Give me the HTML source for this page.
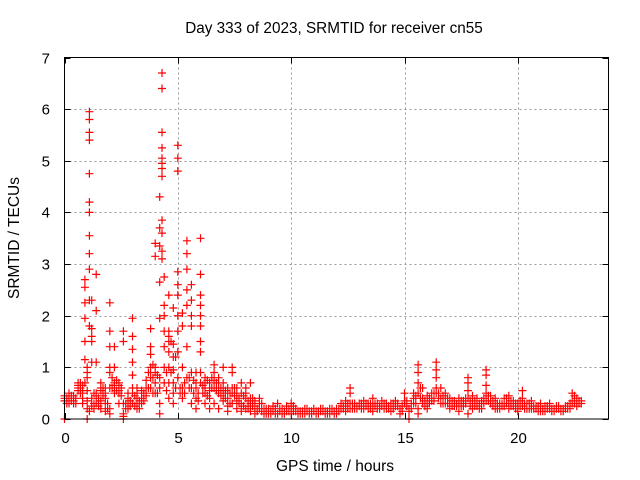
<!DOCTYPE html>
<html><head><meta charset="utf-8"><style>
body{margin:0;background:#fff;}
svg{display:block;font-family:"Liberation Sans",sans-serif;}
</style></head><body>
<svg id="chart" width="640" height="480" viewBox="0 0 640 480">
<text x="334" y="33" font-size="15.3" text-anchor="middle">Day 333 of 2023, SRMTID for receiver cn55</text>
<text x="335" y="471" font-size="15.5" text-anchor="middle">GPS time / hours</text>
<text transform="translate(19,238) rotate(-90)" font-size="15.5" text-anchor="middle">SRMTID / TECUs</text>
<g id="grid"></g>
<g id="ticks"></g>
<g id="marks"></g>
<rect x="64.5" y="57.5" width="544" height="361.5" fill="none" stroke="#000" stroke-width="1"/>
</svg>
<script>
const xTicks=[0,5,10,15,20];
const yTicks=[0,1,2,3,4,5,6,7];
const times=[0,0.2,0.4,0.6,0.8,0.9,1.0,1.1,1.2,1.4,1.6,1.8,2.0,2.2,2.4,2.6,2.8,3.0,3.2,3.4,3.6,3.8,4.0,4.2,4.3,4.4,4.6,4.8,5.0,5.2,5.4,5.6,5.8,6.0,6.2,6.4,6.6,6.8,7.0,7.2,7.4,7.6,7.8,8.0,8.2,8.4,8.6,8.8,
9.0,9.2,9.4,9.6,9.8,10.0,10.2,10.4,10.6,10.8,11.0,11.2,11.4,11.6,11.8,12.0,12.2,12.4,12.6,12.8,13.0,13.2,13.4,13.6,13.8,14.0,14.2,14.4,14.6,14.8,15.0,15.2,15.4,15.6,15.8,16.0,16.2,16.4,16.6,16.8,17.0,17.2,17.4,17.6,17.8,18.0,18.2,18.4,18.6,18.8,19.0,19.2,19.4,19.6,19.8,20.0,20.2,20.4,20.6,20.8,21.0,21.2,21.4,21.6,21.8,22.0,22.2,22.4,22.6,22.8,
0.1,0.3,0.5,0.7,1.3,1.5,1.7,1.9,2.1,2.3,2.5,2.7,2.9,3.1,3.3,3.5,3.7,3.9,4.1,4.5,4.7,4.9,5.1,5.3,5.5,5.7,5.9,6.1,6.3,6.5,6.7,6.9,7.1,7.3,7.5,7.7,7.9,8.1,8.3,8.5,8.7,8.9,
9.1,9.3,9.5,9.7,9.9,10.1,10.3,10.5,10.7,10.9,11.1,11.3,11.5,11.7,11.9,12.1,12.3,12.5,12.7,12.9,13.1,13.3,13.5,13.7,13.9,14.1,14.3,14.5,14.7,14.9,15.1,15.3,15.5,15.7,15.9,16.1,16.3,16.5,16.7,16.9,17.1,17.3,17.5,17.7,17.9,18.1,18.3,18.5,18.7,18.9,19.1,19.3,19.5,19.7,19.9,20.1,20.3,20.5,20.7,20.9,21.1,21.3,21.5,21.7,21.9,22.1,22.3,22.5,22.7];
const values=[[.35,.4,.45,0],[.3,.4,.5],[.35,.45,.3],[.6,.7,.55,.65],[.65,.5,.4,.3],[2.7,2.55,2.25,1.95,1.5,1.15,.7],[.35,.2,.55,1.0,.8,.9,0],[5.95,5.8,5.55,5.4,4.75,4.2,4.0,3.55,3.2,2.9,2.3,1.8,.15],[1.75,1.6,1.5,2.3,.4,.25,1.1],[2.1,2.8,1.1,.5,.3,.45],[.55,.35,.2,.7,.6],[.6,.3,.15,.5,.4],[1.0,.9,2.25,1.7,1.4,.2,.1,.6],[.7,.6,.5,1.4,1.0,.65],[.55,.65,.7,.3,.5],[.1,.05,0,1.7,1.5,.3],[.4,.3,.2,.5],[.5,.3,.85,1.95,1.6,1.35,1.1,.6],[.3,.5,.6,.2,.4],[.4,.55,.3,.5],[.5,.6,.75,.45],[.8,1.0,.9,1.25,1.75,1.4,.6],[1.0,.7,3.4,3.15,.5,.9],[.6,.3,.1,4.3,3.7,3.35,2.65,1.95,.8],[6.7,6.4,5.55,5.25,5.05,4.95,4.85,4.7,3.85,3.6,3.25,3.1],[2.75,2.2,2.0,1.7,1.4,1.0,.7],[1.7,1.6,1.5,1.3,.7,.4,2.4,1.0],[1.45,1.2,.95,.5,.3,2.15,.7],[2.85,2.6,2.4,2.0,1.7,1.3,5.3,5.05,4.8,.8],[.5,.6,.4,1.0,2.05,1.8],[3.45,3.2,2.9,2.5,2.2,1.4,.8],[2.6,2.3,2.0,1.8,.9,.3,.6],[.9,.7,.4,.2,.6],[3.5,2.8,2.4,2.2,2.0,1.8,1.5,1.3,.7,.9],[.6,.8,.5,.3,.7],[.7,.55,.4,.2,.6],[.9,.6,1.05,.3,.75],[.8,.6,.5,.2,.7],[1.0,.7,.5,.35,.6],[.6,.4,.25,.15,.5],[.9,.5,.3,1.0,.6],[.5,.35,.2,.6],[.7,.5,.3,.15],[.6,.4,.2,.5],[.7,.3,.15,.4],[.25,.1,.35,.2],[.4,.2,.3],[.15,.1,.2],
[.1,.2],[.15,.25],[.1,.3],[.1,.2],[.25,.15],[.3,.2,.1],[.2,.15],[.1,.15],[.1,.2],[.15,.1],[.15,.2],[.1,.15],[.2,.15],[.15,.1],[.15,.2],[.1,.2],[.2,.3],[.25,.35,.15],[.6,.5,.3,.2],[.3,.2],[.25,.3],[.2,.35],[.3,.2],[.25,.4,.15],[.3,.2],[.25,.35],[.3,.2],[.2,.3,.15],[.25,.35],[.2,.1],[.35,.5,.3],[.2,.15,0],[.5,.4,.3,.3],[1.05,.9,.7,.5,.2,.1],[.4,.6,.3],[.3,.45,.2],[.5,.35],[1.1,.95,.8,.6,.5],[.6,.4,.3],[.5,.4,.3],[.4,.3,.2],[.35,.25],[.3,.4,.15],[.35,.25],[.8,.7,.55,.4,.1],[.45,.3,.2],[.4,.25],[.35,.2],[.95,.85,.65,.5,.35],[.45,.3],[.4,.3,.2],[.3,.2],[.4,.25],[.45,.3,.2],[.25,.35],[.3,.2,.15],[.55,.4,.25],[.3,.2],[.35,.2],[.25,.2],[.3,.2,.15],[.25,.15],[.2,.3],[.2,.15],[.25,.2],[.2,.15],[.25,.2],[.5,.35,.3],[.4,.3,.25],[.35,.3],
[.4,.3],[.45,.35],[.4,.3],[.7,.6,.5],[.5,.3,.2],[.4,.25],[.6,.45],[.3,.2],[.8,.6],[.75,.55],[.6,.45],[.3,.2],[.35,.25],[.45,.25],[.35,.2],[.5,.35],[.9,.6],[1.05,.8,.5],[.85,.5],[.9,.55],[1.5,.9],[1.2,.6],[.6,.5],[.7,.5],[.8,.6],[.75,.5],[.5,.35],[.65,.5],[.75,.45],[.8,.6],[.7,.55],[.6,.45],[.55,.4],[.5,.3],[.6,.45],[.4,.3],[.45,.25],[.35,.2],[.4,.25],[.2,.15],[.3,.15],[.2,.1],
[.15,.1],[.2,.1],[.2,.15],[.15,.1],[.2,.15],[.25,.15],[.15,.1],[.15,.1],[.15,.2],[.1,.15],[.15,.1],[.15,.2],[.15,.1],[.2,.1],[.15,.1],[.2,.15],[.25,.2],[.3,.2],[.3,.2],[.25,.2],[.3,.2],[.25,.3],[.3,.2],[.3,.25],[.25,.2],[.3,.2],[.25,.2],[.3,.2],[.3,.25],[.25,.15],[.35,.25],[.3,.2],[.45,.3],[.6,.4],[.35,.25],[.4,.3],[.5,.35],[.5,.4],[.45,.3],[.4,.3],[.35,.25],[.3,.25],[.35,.25],[.4,.3],[.35,.25],[.35,.25],[.3,.2],[.4,.3],[.45,.35],[.35,.25],[.3,.2],[.3,.25],[.4,.3],[.35,.25],[.3,.2],[.35,.25],[.3,.2],[.3,.2],[.25,.2],[.25,.15],[.2,.15],[.25,.2],[.2,.15],[.25,.2],[.2,.15],[.25,.2],[.3,.2],[.45,.3],[.35,.3]];
const X0=64.5,X1=608.5,Y0=419,Y1=57.5,XMAX=24,YMAX=7;
function sx(v){return X0+(X1-X0)*v/XMAX;}
function sy(v){return Y0-(Y0-Y1)*v/YMAX;}
const NS="http://www.w3.org/2000/svg";
const grid=document.getElementById('grid'),ticks=document.getElementById('ticks'),marks=document.getElementById('marks');
function line(p,x1,y1,x2,y2,st,dash){const l=document.createElementNS(NS,'line');l.setAttribute('x1',x1);l.setAttribute('y1',y1);l.setAttribute('x2',x2);l.setAttribute('y2',y2);l.setAttribute('stroke',st);if(dash)l.setAttribute('stroke-dasharray',dash);p.appendChild(l);return l;}
function txt(p,x,y,s,anchor){const t=document.createElementNS(NS,'text');t.setAttribute('x',x);t.setAttribute('y',y);t.setAttribute('font-size','15');t.setAttribute('text-anchor',anchor);t.textContent=s;p.appendChild(t);return t;}
xTicks.forEach(v=>{const x=Math.round(sx(v))+0.5;
 if(v>0){const g=line(grid,x,Y1,x,Y0,'#999','2,3');
 
 }
 line(ticks,x,Y0,x,Y0-6,'#000');line(ticks,x,Y1,x,Y1+6,'#000');
 const t=txt(ticks,x,443,String(v),'middle');
 
 });
yTicks.forEach(v=>{const y=Math.round(sy(v))+0.5;
 if(v>0&&v<YMAX){const g=line(grid,X0,y,X1,y,'#999','2,3');
 
 }
 line(ticks,X0,y,X0+6,y,'#000');line(ticks,X1,y,X1-6,y,'#000');
 const t=txt(ticks,50,y+5,String(v),'end');
 
 });
let d='';
times.forEach((t,i)=>{const x=sx(t);(values[i]||[]).forEach(v=>{const y=sy(v);d+=`M${(x-4).toFixed(1)} ${y.toFixed(1)}h8M${x.toFixed(1)} ${(y-4).toFixed(1)}v8`;});});
const p=document.createElementNS(NS,'path');p.setAttribute('d',d);p.setAttribute('stroke','#f00');p.setAttribute('stroke-width','1.2');p.setAttribute('fill','none');


marks.appendChild(p);
</script>
</body></html>
